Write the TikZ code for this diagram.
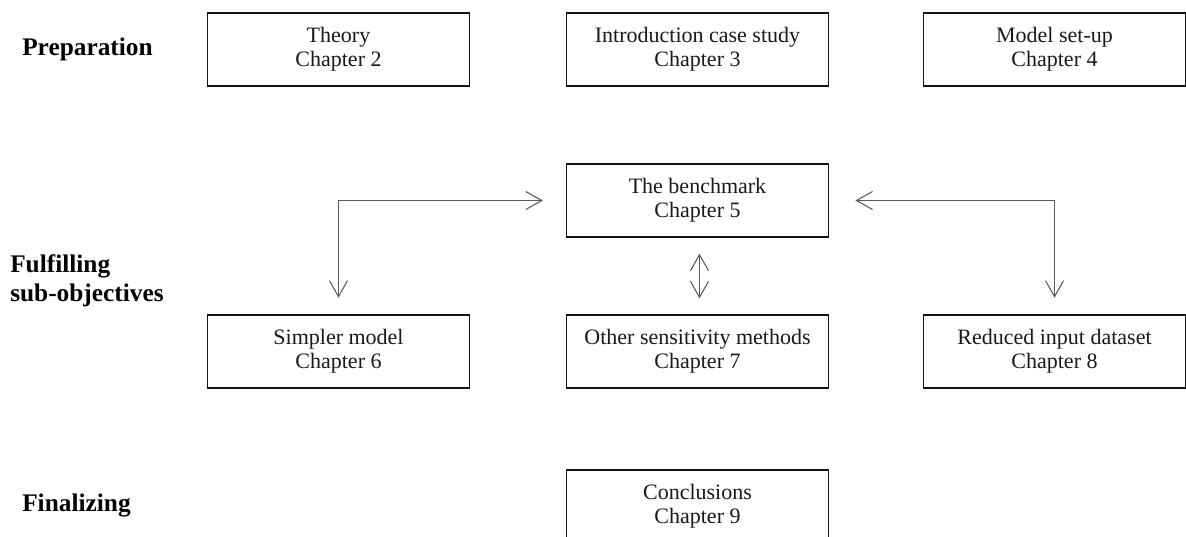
\documentclass[tikz,border=0pt]{standalone}
\usepackage{fontspec}
\setmainfont{Liberation Serif}
\usetikzlibrary{arrows.meta}
\definecolor{inkbox}{RGB}{20,20,20}
\definecolor{inkarrow}{RGB}{90,90,90}
\begin{document}
\begin{tikzpicture}[x=0.75pt,y=-0.75pt,
  chapbox/.style={draw=inkbox,line width=0.9pt,minimum width=197pt,minimum height=54.75pt,
    inner sep=0pt,align=center,text=black!90,font=\fontsize{16.5}{18}\selectfont},
  phase/.style={anchor=west,inner sep=0pt,align=left,font=\fontsize{19}{22}\selectfont\bfseries},
  link/.style={draw=inkarrow,line width=0.8pt,{Straight Barb[length=12pt,width=13.5pt]}-{Straight Barb[length=12pt,width=13.5pt]}}]
\useasboundingbox (0,0) rectangle (1186,536);

% phase labels
\node[phase] (prep) at (22,49) {Preparation};
\node[phase] (fulfil) at (10,281) {Fulfilling\\sub-objectives};
\node[phase] (final) at (22,505) {Finalizing};

% chapters
\node[chapbox] (theory) at (338.5,49.5) {Theory\\Chapter 2};
\node[chapbox] (intro) at (697.5,49.5) {Introduction case study\\Chapter 3};
\node[chapbox] (model) at (1054.5,49.5) {Model set-up\\Chapter 4};
\node[chapbox] (bench) at (697.5,200.5) {The benchmark\\Chapter 5};
\node[chapbox] (simpler) at (338.5,351.5) {Simpler model\\Chapter 6};
\node[chapbox] (other) at (697.5,351.5) {Other sensitivity methods\\Chapter 7};
\node[chapbox] (reduced) at (1054.5,351.5) {Reduced input dataset\\Chapter 8};
\node[chapbox] (concl) at (697.5,506.5) {Conclusions\\Chapter 9};

% links between the benchmark and the sub-objectives
\draw[link,shorten <=17pt,shorten >=12.5pt] (bench.west) -| (simpler.north);
\draw[link,shorten <=19.5pt,shorten >=12.5pt] (bench.east) -| (reduced.north);
\draw[link,shorten <=12pt,shorten >=12pt] ([xshift=1.5]bench.south) -- ([xshift=1.5]other.north);
\end{tikzpicture}
\end{document}
